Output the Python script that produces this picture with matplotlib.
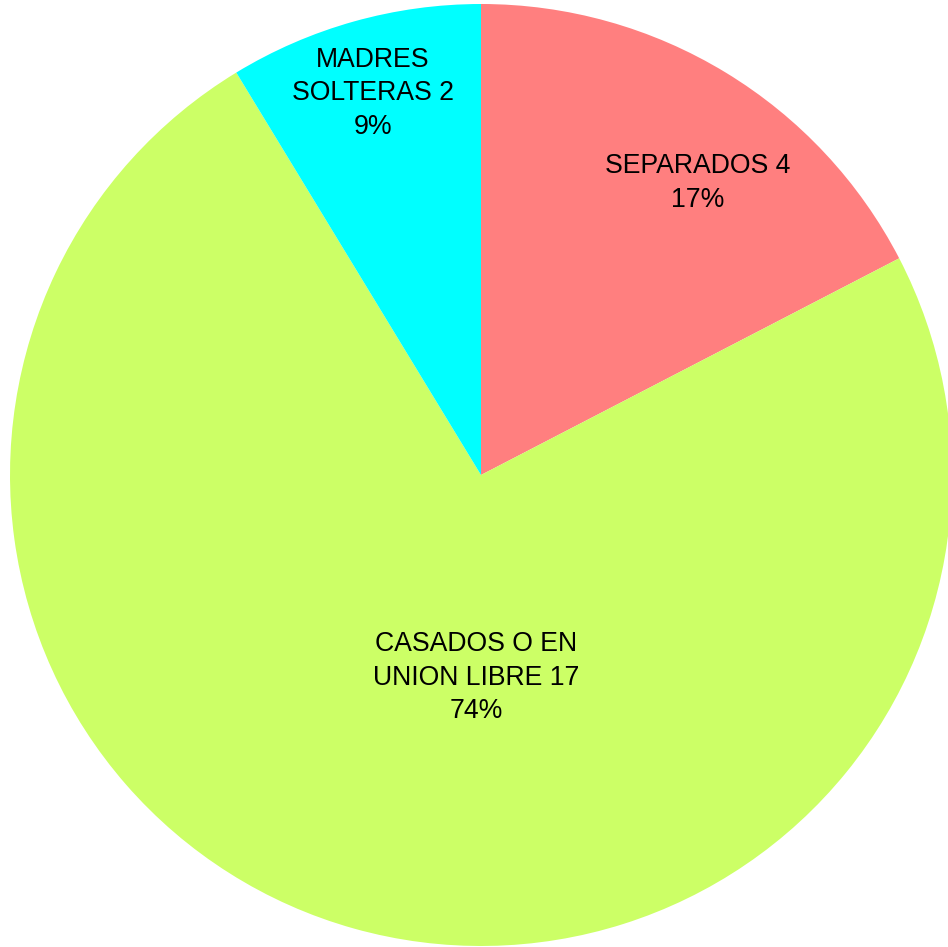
import matplotlib
matplotlib.use("Agg")
import matplotlib.pyplot as plt

categories = ["SEPARADOS", "CASADOS O EN\nUNION LIBRE", "MADRES\nSOLTERAS"]
counts = [4, 17, 2]
percent_labels = ["17%", "74%", "9%"]
colors = ["#FF7F7F", "#CCFF66", "#00FFFF"]

# label anchor points in radius units (Excel-style placement)
label_pos = [(0.46, 0.62), (-0.01, -0.43), (-0.23, 0.81)]

fig = plt.figure(figsize=(9.48, 9.47), dpi=100)
cx, cy, r = 481, 475, 471
ax = fig.add_axes([(cx - r) / 948, (947 - cy - r) / 947, 2 * r / 948, 2 * r / 947])

ax.pie(
    counts,
    colors=colors,
    startangle=90,
    counterclock=False,
    radius=1,
    wedgeprops=dict(linewidth=0, edgecolor="none"),
)

for cat, n, pct, (x, y) in zip(categories, counts, percent_labels, label_pos):
    ax.text(x, y, f"{cat} {n}\n{pct}", ha="center", va="center",
            fontsize=19.2, family=["Liberation Sans", "DejaVu Sans"],
            linespacing=1.38)

ax.set_xlim(-1, 1)
ax.set_ylim(-1, 1)
ax.axis("off")

fig.savefig("out.png", dpi=100)
